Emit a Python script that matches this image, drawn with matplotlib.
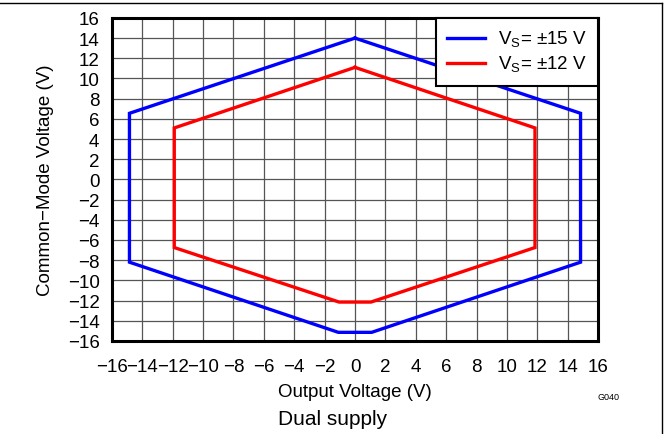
import matplotlib
matplotlib.use("Agg")
import matplotlib.pyplot as plt
from matplotlib.lines import Line2D

plt.rcParams['font.family'] = ['Liberation Sans', 'DejaVu Sans']

# Vs = ±15 V boundary
x15 = [0, 14.85, 14.85, 1.1, -1.1, -14.85, -14.85, 0]
y15 = [14.0, 6.55, -8.2, -15.15, -15.15, -8.2, 6.55, 14.0]
# Vs = ±12 V boundary
x12 = [0, 11.85, 11.85, 1.05, -1.05, -11.9, -11.9, 0]
y12 = [11.1, 5.1, -6.75, -12.15, -12.15, -6.75, 5.1, 11.1]

ticks = list(range(-16, 17, 2))
labels = ["V$_\\mathregular{S}$= ±15 V", "V$_\\mathregular{S}$= ±12 V"]

narrow = ['Liberation Sans Narrow', 'Liberation Sans', 'DejaVu Sans']

fig = plt.figure(figsize=(6.69, 4.35), dpi=100)
ax = fig.add_axes([0.1674, 0.214, 0.7265, 0.7425])

ax.plot(x15, y15, color='#0000ff', lw=2.4, label=labels[0], solid_joinstyle='miter')
ax.plot(x12, y12, color='#ff0000', lw=2.4, label=labels[1], solid_joinstyle='miter')

ax.set_xlim(-16, 16)
ax.set_ylim(-16, 16)
ax.set_xticks(ticks)
ax.set_yticks(ticks)
ax.set_xticklabels([str(t).replace('-', '\u2212') for t in ticks], family=narrow, fontsize=13.5)
ax.set_yticklabels([str(t).replace('-', '\u2212') for t in ticks], family=narrow, fontsize=13.5)
ax.tick_params(axis='x', length=0, pad=12)
ax.tick_params(axis='y', length=0, pad=9)
ax.grid(True, color='#555555', lw=0.9)
ax.set_axisbelow(True)
for s in ax.spines.values():
    s.set_linewidth(2.2)
    s.set_color('black')

ax.set_xlabel("Output Voltage (V)", fontsize=13.5, labelpad=6, family=narrow)
ax.set_ylabel("Common\u2212Mode Voltage (V)", fontsize=13.5, labelpad=10, family=narrow)

leg = ax.legend(loc='upper right', borderaxespad=0, prop={'family': narrow, 'size': 13.5},
                fancybox=False, framealpha=1, edgecolor='black', handlelength=2.0,
                borderpad=0.6, labelspacing=0.25, handletextpad=0.7)
leg.get_frame().set_linewidth(1.5)

fig.text(608 / 669, 1 - 398 / 435, "G040", fontsize=6.5, ha='center', va='center')
fig.text(333 / 669, 1 - 420 / 435, "Dual supply", fontsize=15, ha='center', va='center', family=narrow)

# figure border lines (top and right)
fig.add_artist(Line2D([0, 662 / 669], [1 - 4 / 435, 1 - 4 / 435], color='black', lw=1, transform=fig.transFigure))
fig.add_artist(Line2D([662 / 669, 662 / 669], [1 - 4 / 435, 0], color='black', lw=1, transform=fig.transFigure))

fig.savefig("out.png", dpi=100)
